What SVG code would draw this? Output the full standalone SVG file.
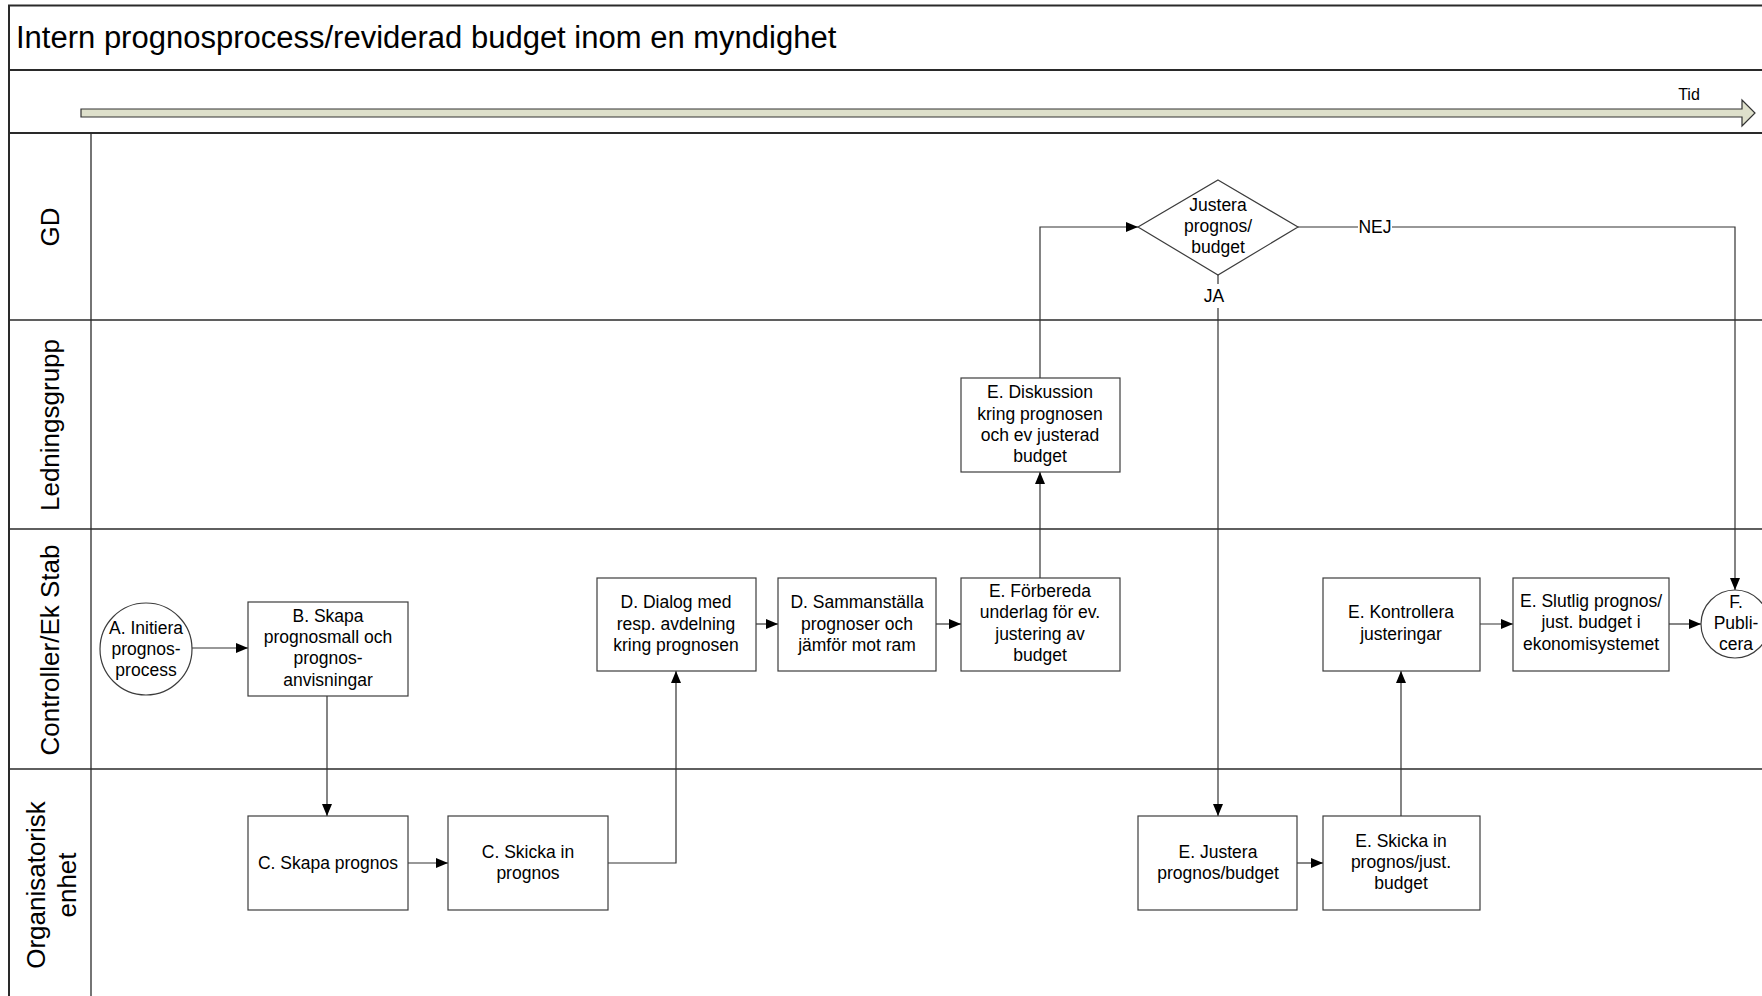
<svg xmlns="http://www.w3.org/2000/svg" width="1762" height="996" viewBox="0 0 1762 996">
<style>
text{font-family:"Liberation Sans",Arial,sans-serif;fill:#000}
.t{font-size:17.5px;text-anchor:middle}
.lane{font-size:26px;text-anchor:middle}
.box{fill:#fff;stroke:#3c3c3c;stroke-width:1.2}
.frame{fill:none;stroke:#2a2a2a;stroke-width:2}
.ln{fill:none;stroke:#2a2a2a;stroke-width:1.3}
.c{fill:none;stroke:#333;stroke-width:1.2}
</style>
<defs>
<marker id="ah" viewBox="0 0 12 10" refX="12" refY="5" markerWidth="12" markerHeight="10" markerUnits="userSpaceOnUse" orient="auto"><path d="M0,0 L12,5 L0,10 z" fill="#000"/></marker>
</defs>
<rect x="0" y="0" width="1762" height="996" fill="#fff"/>
<g id="frame">
<path class="frame" d="M9,1000 V5.6 H1770"/>
<line class="frame" x1="9" y1="70" x2="1770" y2="70"/>
<line class="frame" x1="9" y1="133" x2="1770" y2="133"/>
<line class="ln" x1="91" y1="133" x2="91" y2="1000"/>
<line class="ln" x1="9" y1="320" x2="1770" y2="320"/>
<line class="ln" x1="9" y1="529" x2="1770" y2="529"/>
<line class="ln" x1="9" y1="769" x2="1770" y2="769"/>
<text x="16" y="48" style="font-size:31px">Intern prognosprocess/reviderad budget inom en myndighet</text>
</g>
<g id="timeline">
<polygon points="81,109 1742,109 1742,100 1755,113 1742,126 1742,117 81,117" fill="#dee0cb" stroke="#333" stroke-width="1.2"/>
<text x="1689" y="100" style="font-size:16px;text-anchor:middle">Tid</text>
</g>
<g id="lanes">
<text class="lane" transform="translate(59,227) rotate(-90)">GD</text>
<text class="lane" transform="translate(59,425) rotate(-90)">Ledningsgrupp</text>
<text class="lane" transform="translate(59,650) rotate(-90)">Controller/Ek Stab</text>
<text class="lane" transform="translate(45,885) rotate(-90)">Organisatorisk</text>
<text class="lane" transform="translate(76,885) rotate(-90)">enhet</text>
</g>
<g id="connectors">
<line class="c" x1="192" y1="648" x2="248" y2="648" marker-end="url(#ah)"/>
<line class="c" x1="327" y1="696" x2="327" y2="816" marker-end="url(#ah)"/>
<line class="c" x1="408" y1="863" x2="448" y2="863" marker-end="url(#ah)"/>
<polyline class="c" points="608,863 676,863 676,671" marker-end="url(#ah)"/>
<line class="c" x1="756" y1="624" x2="778" y2="624" marker-end="url(#ah)"/>
<line class="c" x1="936" y1="624" x2="961" y2="624" marker-end="url(#ah)"/>
<line class="c" x1="1040" y1="578" x2="1040" y2="472" marker-end="url(#ah)"/>
<polyline class="c" points="1040,378 1040,227 1138,227" marker-end="url(#ah)"/>
<line class="c" x1="1218" y1="275" x2="1218" y2="284"/>
<line class="c" x1="1218" y1="308" x2="1218" y2="816" marker-end="url(#ah)"/>
<line class="c" x1="1298" y1="227" x2="1358" y2="227"/>
<polyline class="c" points="1392,227 1735,227 1735,590" marker-end="url(#ah)"/>
<line class="c" x1="1297" y1="863" x2="1323" y2="863" marker-end="url(#ah)"/>
<line class="c" x1="1401" y1="816" x2="1401" y2="671" marker-end="url(#ah)"/>
<line class="c" x1="1480" y1="624" x2="1513" y2="624" marker-end="url(#ah)"/>
<line class="c" x1="1669" y1="624" x2="1701" y2="624" marker-end="url(#ah)"/>
<text class="t" x="1214" y="302">JA</text>
<text class="t" x="1375" y="233">NEJ</text>
</g>
<g id="nodeA">
<ellipse class="box" cx="146" cy="649" rx="46" ry="46"/>
<text class="t" x="146" y="634">A. Initiera</text>
<text class="t" x="146" y="655">prognos-</text>
<text class="t" x="146" y="676">process</text>
</g>
<g id="nodeB">
<rect class="box" x="248" y="602" width="160" height="94"/>
<text class="t" x="328" y="622">B. Skapa</text>
<text class="t" x="328" y="643">prognosmall och</text>
<text class="t" x="328" y="664">prognos-</text>
<text class="t" x="328" y="686">anvisningar</text>
</g>
<g id="nodeC1">
<rect class="box" x="248" y="816" width="160" height="94"/>
<text class="t" x="328" y="869">C. Skapa prognos</text>
</g>
<g id="nodeC2">
<rect class="box" x="448" y="816" width="160" height="94"/>
<text class="t" x="528" y="858">C. Skicka in</text>
<text class="t" x="528" y="879">prognos</text>
</g>
<g id="nodeD1">
<rect class="box" x="597" y="578" width="159" height="93"/>
<text class="t" x="676" y="608">D. Dialog med</text>
<text class="t" x="676" y="630">resp. avdelning</text>
<text class="t" x="676" y="651">kring prognosen</text>
</g>
<g id="nodeD2">
<rect class="box" x="778" y="578" width="158" height="93"/>
<text class="t" x="857" y="608">D. Sammanställa</text>
<text class="t" x="857" y="630">prognoser och</text>
<text class="t" x="857" y="651">jämför mot ram</text>
</g>
<g id="nodeE1">
<rect class="box" x="961" y="578" width="159" height="93"/>
<text class="t" x="1040" y="597">E. Förbereda</text>
<text class="t" x="1040" y="618">underlag för ev.</text>
<text class="t" x="1040" y="640">justering av</text>
<text class="t" x="1040" y="661">budget</text>
</g>
<g id="nodeE2">
<rect class="box" x="961" y="378" width="159" height="94"/>
<text class="t" x="1040" y="398">E. Diskussion</text>
<text class="t" x="1040" y="420">kring prognosen</text>
<text class="t" x="1040" y="441">och ev justerad</text>
<text class="t" x="1040" y="462">budget</text>
</g>
<g id="decision">
<polygon class="box" points="1218,180 1298,227 1218,275 1138,227"/>
<text class="t" x="1218" y="211">Justera</text>
<text class="t" x="1218" y="232">prognos/</text>
<text class="t" x="1218" y="253">budget</text>
</g>
<g id="nodeE3">
<rect class="box" x="1138" y="816" width="159" height="94"/>
<text class="t" x="1218" y="858">E. Justera</text>
<text class="t" x="1218" y="879">prognos/budget</text>
</g>
<g id="nodeE4">
<rect class="box" x="1323" y="816" width="157" height="94"/>
<text class="t" x="1401" y="847">E. Skicka in</text>
<text class="t" x="1401" y="868">prognos/just.</text>
<text class="t" x="1401" y="889">budget</text>
</g>
<g id="nodeE5">
<rect class="box" x="1323" y="578" width="157" height="93"/>
<text class="t" x="1401" y="618">E. Kontrollera</text>
<text class="t" x="1401" y="640">justeringar</text>
</g>
<g id="nodeE6">
<rect class="box" x="1513" y="578" width="156" height="93"/>
<text class="t" x="1591" y="607">E. Slutlig prognos/</text>
<text class="t" x="1591" y="628">just. budget i</text>
<text class="t" x="1591" y="650">ekonomisystemet</text>
</g>
<g id="nodeF">
<ellipse class="box" cx="1735" cy="624" rx="34" ry="34"/>
<text class="t" x="1736" y="608">F.</text>
<text class="t" x="1736" y="629">Publi-</text>
<text class="t" x="1736" y="650">cera</text>
</g>
</svg>
